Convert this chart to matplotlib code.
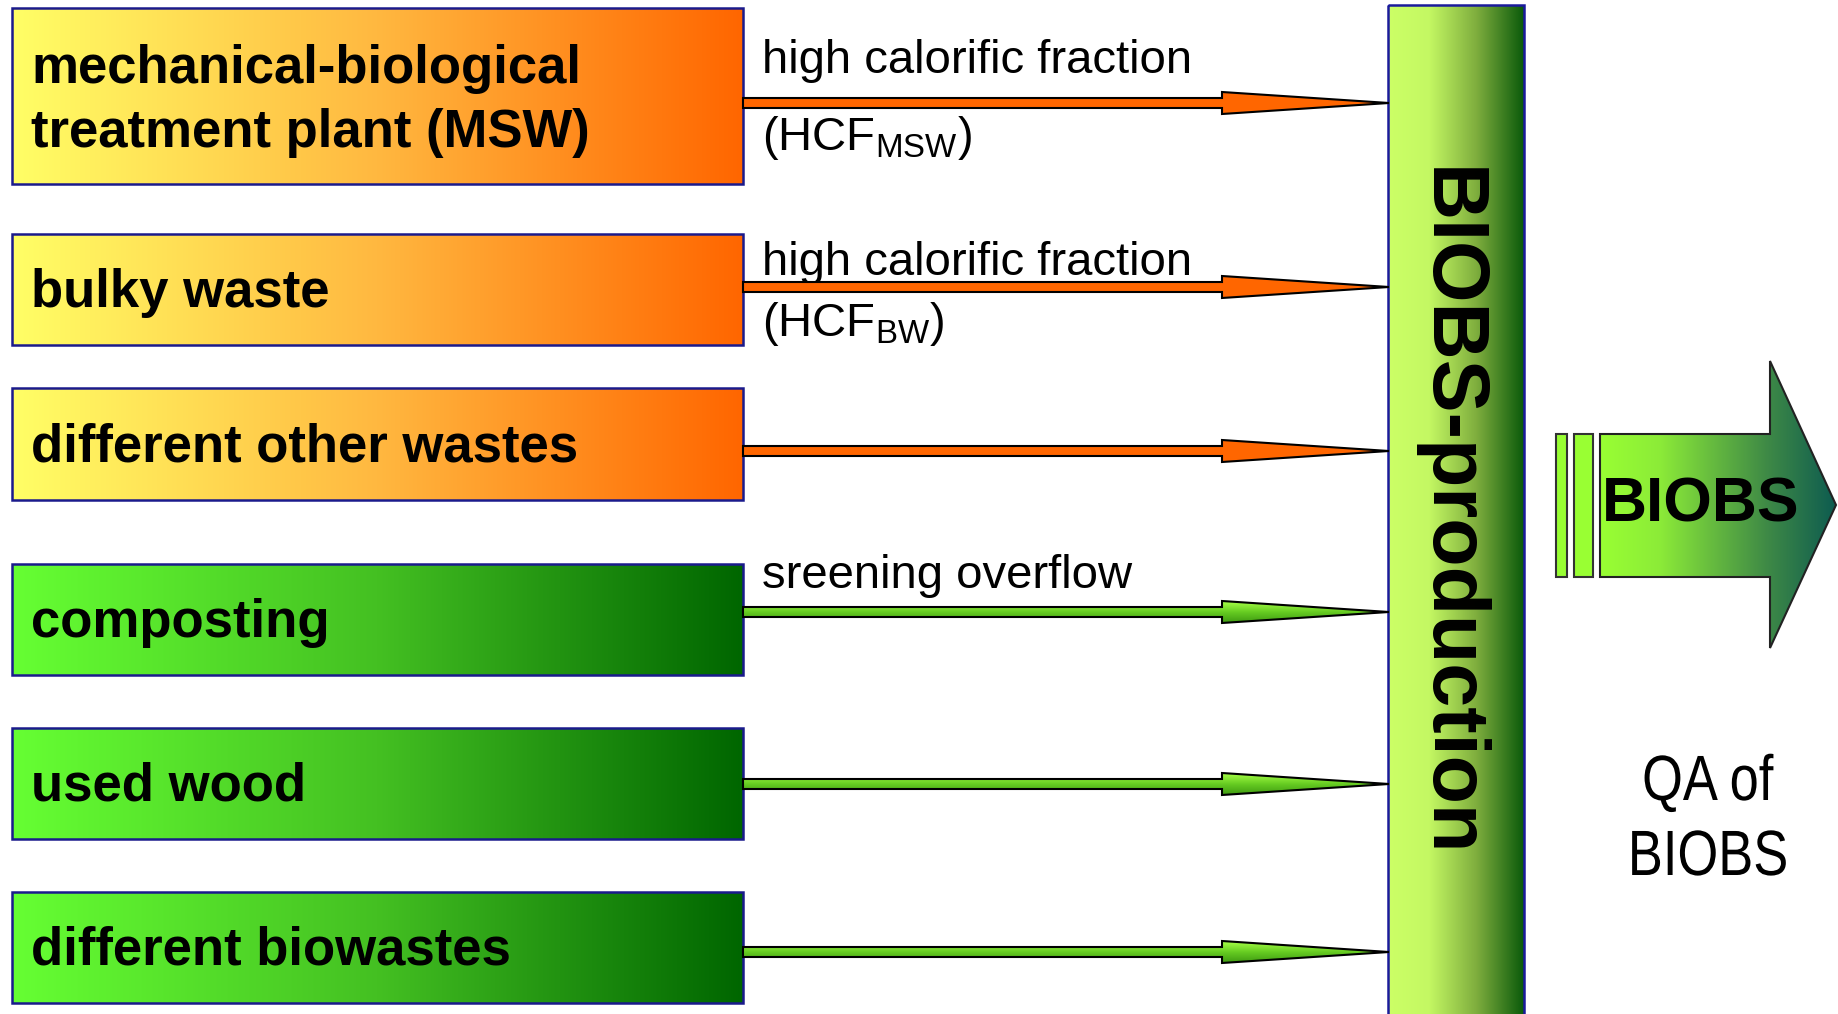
import matplotlib.pyplot as plt
import numpy as np
from matplotlib.patches import Polygon, Rectangle, PathPatch
from matplotlib.colors import LinearSegmentedColormap
from matplotlib.textpath import TextPath
from matplotlib.font_manager import FontProperties
from matplotlib.transforms import Affine2D

# Flow chart content
source_labels = [
    'mechanical-biological\ntreatment plant (MSW)',
    'bulky waste',
    'different other wastes',
    'composting',
    'used wood',
    'different biowastes',
]
source_kind = ['waste', 'waste', 'waste', 'bio', 'bio', 'bio']
flow_labels = ['high calorific fraction', 'high calorific fraction', '', 'sreening overflow', '', '']
flow_codes = ['MSW', 'BW', '', '', '', '']
hub_label = 'BIOBS-production'
product_label = 'BIOBS'
qa_lines = ['QA of', 'BIOBS']

# layout in pixels (figure is 1838 x 1014)
W, H = 1838, 1014
box_x0, box_x1 = 12, 743
box_rows = [(8, 184), (234, 345), (388, 500), (564, 675), (728, 839), (892, 1003)]
arrow_y = [103, 287, 451, 612, 784, 952]
label_off = [-30, -12, 0, -24, 0, 0]
code_off = [47, 49, 0, 0, 0, 0]
hub_x0, hub_x1 = 1388, 1524
head_x, tip_x = 1222, 1389

plt.rcParams['font.family'] = ['Liberation Sans', 'DejaVu Sans']
plt.rcParams['mathtext.fontset'] = 'custom'
plt.rcParams['mathtext.rm'] = 'Liberation Sans'

cmaps = {
    'waste': LinearSegmentedColormap.from_list('w', ['#FFFF66', '#FFB840', '#FF6600']),
    'bio': LinearSegmentedColormap.from_list('b', ['#66FF33', '#44C022', '#006600']),
}
hub_cmap = LinearSegmentedColormap.from_list(
    'h', [(0, '#CCFF66'), (0.3, '#C4F863'), (0.65, '#7FAE3E'), (1, '#0B5A0B')])
prod_cmap = LinearSegmentedColormap.from_list(
    'p', [(0, '#99FF33'), (0.25, '#8CEB38'), (0.7, '#3F8A46'), (1, '#0C5A50')])
orange_arrow = '#FF6600'
green_arrow = LinearSegmentedColormap.from_list('g', ['#A8FF48', '#66CC22', '#3F9A12'])

hgrad = np.linspace(0, 1, 256).reshape(1, -1)
vgrad = np.linspace(0, 1, 64).reshape(-1, 1)

fig = plt.figure(figsize=(W / 100, H / 100), dpi=100)
ax = fig.add_axes([0, 0, 1, 1])
ax.axis('off')


def grad_fill(patch, extent, cmap, grad):
    ax.add_patch(patch)
    im = ax.imshow(grad, extent=extent, cmap=cmap, aspect='auto',
                   interpolation='bilinear', zorder=patch.get_zorder())
    im.set_clip_path(patch)


def narrow_text(s, xc, yb, size, squeeze=0.82):
    # condensed text drawn as a path, centred at xc with baseline yb
    tp = TextPath((0, 0), s, size=size, prop=FontProperties(family='Liberation Sans'))
    ext = tp.get_extents()
    xm = (ext.x0 + ext.x1) / 2
    tr = Affine2D().translate(-xm, 0).scale(squeeze, -1).translate(xc, yb)
    ax.add_patch(PathPatch(tr.transform_path(tp), facecolor='black',
                           edgecolor='none', zorder=4))


# source boxes
for label, kind, (y0, y1) in zip(source_labels, source_kind, box_rows):
    rect = Rectangle((box_x0, y0), box_x1 - box_x0, y1 - y0, facecolor='none',
                     edgecolor='none', zorder=2)
    grad_fill(rect, (box_x0, box_x1, y1, y0), cmaps[kind], hgrad)
    ax.add_patch(Rectangle((box_x0, y0), box_x1 - box_x0, y1 - y0, facecolor='none',
                           edgecolor='#1A1A8C', lw=1.8, zorder=3))
    lines = label.split('\n')
    yc = (y0 + y1) / 2
    base = yc + 17 - (len(lines) - 1) * 63 / 2 + (len(lines) - 1) * 2
    for k, line in enumerate(lines):
        ax.text(box_x0 + 19, base + k * 63, line, fontsize=38, fontweight='bold',
                va='baseline', ha='left', zorder=4)

# flow arrows
for kind, y, lab, code, lo, co in zip(source_kind, arrow_y, flow_labels, flow_codes,
                                      label_off, code_off):
    pts = [(box_x1, y - 5), (head_x, y - 5), (head_x, y - 11), (tip_x, y),
           (head_x, y + 11), (head_x, y + 5), (box_x1, y + 5)]
    if kind == 'waste':
        ax.add_patch(Polygon(pts, closed=True, facecolor=orange_arrow,
                             edgecolor='black', lw=1.5, zorder=5))
    else:
        poly = Polygon(pts, closed=True, facecolor='none', edgecolor='none', zorder=5)
        grad_fill(poly, (box_x1, tip_x, y + 11, y - 11), green_arrow, vgrad)
        ax.add_patch(Polygon(pts, closed=True, facecolor='none',
                             edgecolor='black', lw=1.5, zorder=6))
    if lab:
        ax.text(762, y + lo, lab, fontsize=34, va='baseline', ha='left', zorder=4)
    if code:
        ax.text(762, y + co, r'(HCF$_{\mathrm{%s}}$)' % code, fontsize=34,
                va='baseline', ha='left', zorder=7)

# hub bar
hub = Rectangle((hub_x0, 5), hub_x1 - hub_x0, H, facecolor='none', edgecolor='none', zorder=1)
grad_fill(hub, (hub_x0, hub_x1, H + 5, 5), hub_cmap, hgrad)
ax.add_patch(Rectangle((hub_x0, 5), hub_x1 - hub_x0, H, facecolor='none',
                       edgecolor='#1A1A9C', lw=1.8, zorder=3))
ax.text((hub_x0 + hub_x1) / 2 - 8, 512, hub_label, rotation=-90, fontsize=57,
        fontweight='bold', ha='center', va='center', zorder=4)

# product arrow
for bx0, bx1 in [(1556, 1567), (1574, 1593)]:
    ax.add_patch(Rectangle((bx0, 434), bx1 - bx0, 143, facecolor='#99FF33',
                           edgecolor='#333333', lw=1.5, zorder=3))
parrow = [(1600, 434), (1770, 434), (1770, 361), (1836, 505), (1770, 648),
          (1770, 577), (1600, 577)]
pp = Polygon(parrow, closed=True, facecolor='none', edgecolor='none', zorder=2)
grad_fill(pp, (1600, 1838, 648, 361), prod_cmap, hgrad)
ax.add_patch(Polygon(parrow, closed=True, facecolor='none', edgecolor='#222222',
                     lw=1.5, zorder=3))
ax.text(1701, 505, product_label, fontsize=45, fontweight='bold',
        ha='center', va='center', zorder=4)

# QA note
for k, line in enumerate(qa_lines):
    narrow_text(line, 1709, 800 + k * 75, 64)

ax.set_xlim(0, W)
ax.set_ylim(H, 0)
fig.savefig('out.png', dpi=100)
